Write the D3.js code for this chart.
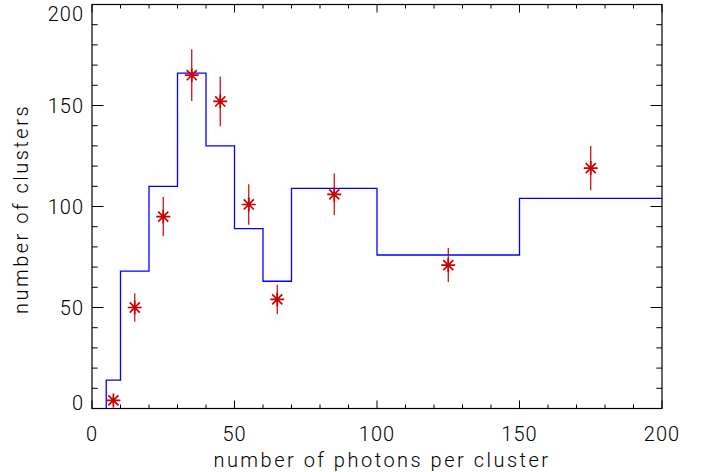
<!DOCTYPE html>
<html>
<head>
<meta charset="utf-8">
<script src="https://cdn.jsdelivr.net/npm/d3@7"></script>
<style>
  html, body { margin: 0; padding: 0; background: #fff; }
  svg { display: block; }
  text { font-family: Roboto, "Liberation Sans", Arial, sans-serif; font-weight: 300; fill: #000; }
</style>
</head>
<body>
<svg id="chart" width="706" height="472"></svg>
<script>
// Histogram bin edges and model counts per bin (blue step line)
const binEdges = [5, 10, 20, 30, 40, 50, 60, 70, 100, 150, 200];
const binCounts = [14, 68, 110, 166, 130, 89, 63, 109, 76, 104];

// Measured cluster counts (red asterisks) with their error bars
const pointX = [7.5, 15, 25, 35, 45, 55, 65, 85, 125, 175];
const pointY = [4, 50, 95, 165, 152, 101, 54, 106, 71, 119];
const pointErr = [2, 7.1, 9.7, 12.8, 12.3, 10, 7.3, 10.3, 8.4, 10.9];

// Axis ticks
const xMajorTicks = [0, 50, 100, 150, 200];
const yMajorTicks = [0, 50, 100, 150, 200];
const xTitle = "number of photons per cluster";
const yTitle = "number of clusters";

const margin = { left: 92, top: 4.5, right: 44, bottom: 63.5 };
const W = 706, H = 472;
const pw = W - margin.left - margin.right;   // 570
const ph = H - margin.top - margin.bottom;   // 404

const svg = d3.select("#chart");
const g = svg.append("g").attr("transform", `translate(${margin.left},${margin.top})`);

const x = d3.scaleLinear().domain([0, 200]).range([0, pw]);
const y = d3.scaleLinear().domain([0, 200]).range([ph, 0]);

const minorX = d3.range(0, 201, 10).filter(v => !xMajorTicks.includes(v));
const minorY = d3.range(0, 201, 10).filter(v => !yMajorTicks.includes(v));

const xTickMajor = 8, xTickMinor = 4, yTickMajor = 11.5, yTickMinor = 5.7;

// Step-line histogram
const stepPts = [[binEdges[0], 0]];
binCounts.forEach((c, i) => {
  stepPts.push([binEdges[i], c]);
  stepPts.push([binEdges[i + 1], c]);
});
g.append("path")
  .datum(stepPts)
  .attr("fill", "none")
  .attr("stroke", "#0000ff")
  .attr("stroke-width", 1.3)
  .attr("d", d3.line().x(d => x(d[0])).y(d => y(d[1])));

// Error bars
const red = "#cc0000";
const pts = pointX.map((v, i) => ({ x: v, y: pointY[i], e: pointErr[i] }));
g.selectAll("line.err").data(pts).join("line")
  .attr("class", "err")
  .attr("x1", d => x(d.x)).attr("x2", d => x(d.x))
  .attr("y1", d => y(d.y - d.e)).attr("y2", d => y(d.y + d.e))
  .attr("stroke", red).attr("stroke-width", 1.2);

// Asterisk markers
const r = 7, rd = 7 * 0.72;
const star = `M${-r},0L${r},0M0,${-r}L0,${r}M${-rd},${-rd}L${rd},${rd}M${-rd},${rd}L${rd},${-rd}`;
g.selectAll("path.star").data(pts).join("path")
  .attr("class", "star")
  .attr("transform", d => `translate(${x(d.x)},${y(d.y)})`)
  .attr("d", star)
  .attr("fill", "none")
  .attr("stroke", red)
  .attr("stroke-width", 1.7);

// Frame
const axisColor = "#000";
g.append("rect")
  .attr("x", 0).attr("y", 0).attr("width", pw).attr("height", ph)
  .attr("fill", "none").attr("stroke", axisColor).attr("stroke-width", 1.2);

// Ticks on all four sides
function tickLines(vals, len, horizontal) {
  vals.forEach(v => {
    if (horizontal) {
      g.append("line").attr("x1", x(v)).attr("x2", x(v)).attr("y1", ph).attr("y2", ph - len)
        .attr("stroke", axisColor).attr("stroke-width", 1);
      g.append("line").attr("x1", x(v)).attr("x2", x(v)).attr("y1", 0).attr("y2", len)
        .attr("stroke", axisColor).attr("stroke-width", 1);
    } else {
      g.append("line").attr("y1", y(v)).attr("y2", y(v)).attr("x1", 0).attr("x2", len)
        .attr("stroke", axisColor).attr("stroke-width", 1);
      g.append("line").attr("y1", y(v)).attr("y2", y(v)).attr("x1", pw).attr("x2", pw - len)
        .attr("stroke", axisColor).attr("stroke-width", 1);
    }
  });
}
tickLines(xMajorTicks, xTickMajor, true);
tickLines(minorX, xTickMinor, true);
tickLines(yMajorTicks, yTickMajor, false);
tickLines(minorY, yTickMinor, false);

// Tick labels
const fs = 20;
g.selectAll("text.xl").data(xMajorTicks).join("text")
  .attr("class", "xl")
  .attr("x", d => x(d))
  .attr("y", ph + 32.5)
  .attr("text-anchor", "middle")
  .attr("font-size", fs)
  .attr("letter-spacing", 1)
  .text(d => d);

g.selectAll("text.yl").data(yMajorTicks).join("text")
  .attr("class", "yl")
  .attr("x", -8)
  .attr("y", d => {
    // end labels are kept inside the frame's vertical span
    if (d === 0) return y(d) + 1.5;
    if (d === 200) return y(d) + 16;
    return y(d) + 7;
  })
  .attr("text-anchor", "end")
  .attr("font-size", fs)
  .attr("letter-spacing", 1)
  .text(d => d);

// Axis titles
svg.append("text")
  .attr("x", 382).attr("y", 467)
  .attr("text-anchor", "middle")
  .attr("font-size", fs)
  .attr("letter-spacing", 2.5)
  .text(xTitle);

svg.append("text")
  .attr("transform", "translate(28,209) rotate(-90)")
  .attr("text-anchor", "middle")
  .attr("font-size", fs)
  .attr("letter-spacing", 2.5)
  .text(yTitle);
</script>
</body>
</html>
